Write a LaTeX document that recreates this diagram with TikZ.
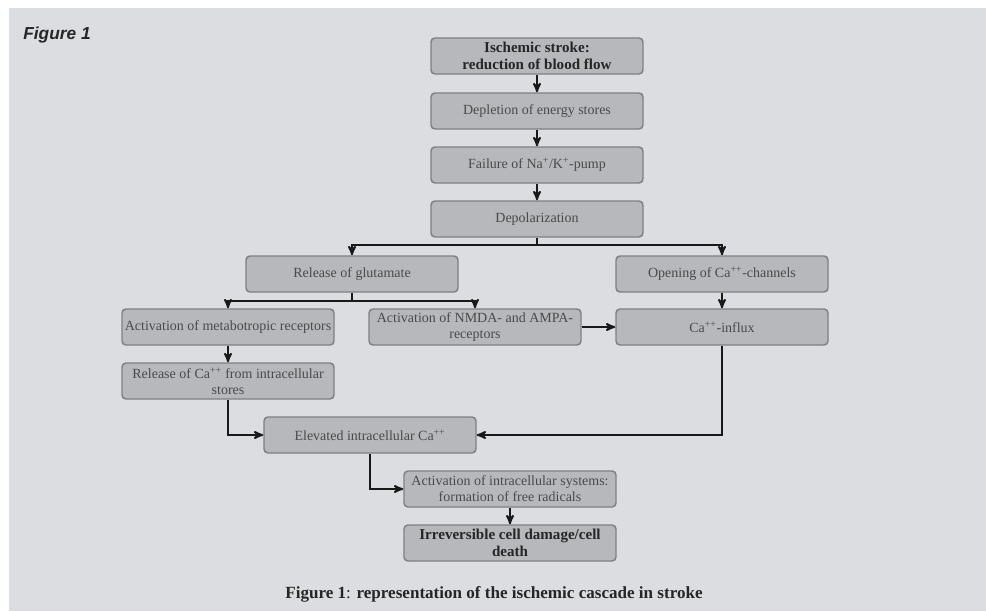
\documentclass[tikz,border=0pt]{standalone}
\usepackage{fontspec}
\setmainfont{Liberation Serif}
\newfontfamily\labelfont{Liberation Sans}
\usetikzlibrary{arrows}

\definecolor{panel}{HTML}{DCDDE0}
\definecolor{boxfill}{HTML}{B6B8BB}
\definecolor{boxline}{HTML}{7E8084}
\definecolor{boxtext}{HTML}{4A4A4A}

\tikzset{
  stage/.style={draw=boxline, line width=1.1pt, fill=boxfill, rounded corners=3pt,
    minimum width=159pt, minimum height=27pt, align=center, inner sep=1pt,
    font=\fontsize{10.5}{12}\selectfont, text=boxtext},
  keystage/.style={stage, font=\fontsize{11.3}{12.8}\selectfont\bfseries, text=black!85},
  flow/.style={->, line width=1.4pt, black!90}
}

\begin{document}
\begin{tikzpicture}[>=stealth', x=0.75pt, y=-0.75pt]
\useasboundingbox (0,0) rectangle (986,611);
\fill[panel] (9,8) rectangle (986,611);

% Labels
\node[font=\labelfont\bfseries\itshape\fontsize{13}{15}\selectfont, text=black!85] (FigLabel) at (57,35) {Figure 1};
\node[font=\fontsize{12.8}{15}\selectfont, text=black!85] (Caption) at (494,594)
  {\textbf{Figure 1}: \textbf{representation of the ischemic cascade in stroke}};

% Main chain
\path (537,56)  node[keystage] (Stroke)    {Ischemic stroke:\\reduction of blood flow}
      (537,111) node[stage]    (Depletion) {Depletion of energy stores}
      (537,165) node[stage]    (Pump)      {Failure of Na\textsuperscript{+}/K\textsuperscript{+}-pump}
      (537,219) node[stage]    (Depol)     {Depolarization};

% Branches
\path (352,274) node[stage] (Glutamate) {Release of glutamate}
      (722,274) node[stage] (Channels)  {Opening of Ca\textsuperscript{++}-channels}
      (228,327) node[stage] (Metabo)    {Activation of metabotropic receptors}
      (475,327) node[stage] (NMDA)      {Activation of NMDA- and AMPA-\\receptors}
      (722,327) node[stage] (Influx)    {Ca\textsuperscript{++}-influx}
      (228,381) node[stage] (Stores)    {Release of Ca\textsuperscript{++} from intracellular\\stores};

% Convergence
\path (370,435) node[stage]    (Elevated) {Elevated intracellular Ca\textsuperscript{++}}
      (510,489) node[stage]    (Radicals) {Activation of intracellular systems:\\formation of free radicals}
      (510,543) node[keystage] (Death)    {Irreversible cell damage/cell\\death};

% Split points
\coordinate (DepolSplit) at (537,245);
\coordinate (GlutSplit)  at (352,301);

% Arrows
\draw[flow] (Stroke) -- (Depletion);
\draw[flow] (Depletion) -- (Pump);
\draw[flow] (Pump) -- (Depol);
\draw[flow] (Depol) -- (DepolSplit) -| (Glutamate);
\draw[flow] (DepolSplit) -| (Channels);
\draw[flow] (Glutamate) -- (GlutSplit) -| (Metabo);
\draw[flow] (GlutSplit) -| (NMDA);
\draw[flow] (Channels) -- (Influx);
\draw[flow] (NMDA) -- (Influx);
\draw[flow] (Metabo) -- (Stores);
\draw[flow] (Stores) |- (Elevated);
\draw[flow] (Influx) |- (Elevated);
\draw[flow] (Elevated) |- (Radicals);
\draw[flow] (Radicals) -- (Death);

\end{tikzpicture}
\end{document}
